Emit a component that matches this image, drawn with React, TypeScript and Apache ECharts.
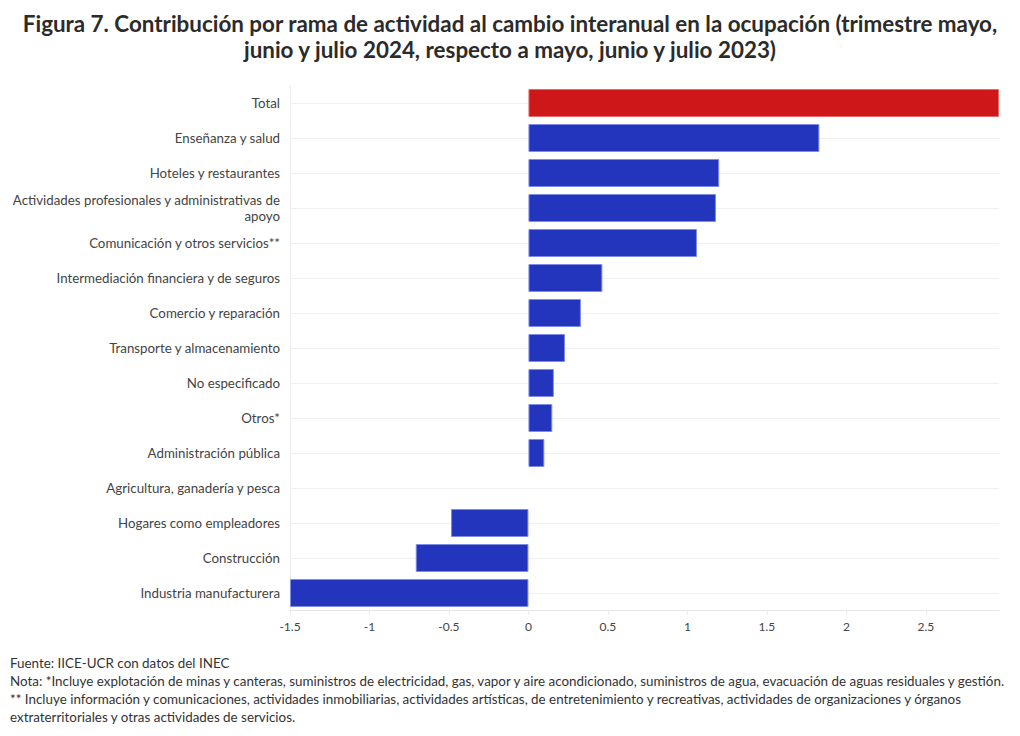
import React, { useEffect, useRef } from "react";
import * as echarts from "echarts";

const categories = [
  "Total",
  "Enseñanza y salud",
  "Hoteles y restaurantes",
  "Actividades profesionales y administrativas de\napoyo",
  "Comunicación y otros servicios**",
  "Intermediación financiera y de seguros",
  "Comercio y reparación",
  "Transporte y almacenamiento",
  "No especificado",
  "Otros*",
  "Administración pública",
  "Agricultura, ganadería y pesca",
  "Hogares como empleadores",
  "Construcción",
  "Industria manufacturera",
];

const values = [2.96, 1.83, 1.2, 1.18, 1.06, 0.465, 0.33, 0.23, 0.16, 0.15, 0.1, 0, -0.487, -0.709, -1.5];

const xTicks = ["-1.5", "-1", "-0.5", "0", "0.5", "1", "1.5", "2", "2.5"];

const titleLines = [
  "Figura 7. Contribución por rama de actividad al cambio interanual en la ocupación (trimestre mayo,",
  "junio y julio 2024, respecto a mayo, junio y julio 2023)",
];

const footerLines = [
  "Fuente: IICE-UCR con datos del INEC",
  "Nota: *Incluye explotación de minas y canteras, suministros de electricidad, gas, vapor y aire acondicionado, suministros de agua, evacuación de aguas residuales y gestión.",
  "** Incluye información y comunicaciones, actividades inmobiliarias, actividades artísticas, de entretenimiento y recreativas, actividades de organizaciones y órganos",
  "extraterritoriales y otras actividades de servicios.",
];

const FONT = "Lato, 'Source Sans Pro', sans-serif";

export default function App() {
  const ref = useRef<HTMLDivElement>(null);
  useEffect(() => {
    if (!ref.current) return;
    const chart = echarts.init(ref.current, undefined, { renderer: "svg" });
    const data = values.map((v, i) => ({
      value: v,
      itemStyle:
        i === 0
          ? { color: "#cd1719", borderColor: "#e56a6a", borderWidth: 1 }
          : { color: "#2335bd", borderColor: "#7d8ce6", borderWidth: v === 0 ? 0 : 1 },
    }));
    chart.setOption({
      animation: false,
      backgroundColor: "#ffffff",
      textStyle: { fontFamily: FONT },
      title: {
        text: titleLines.join("\n"),
        left: "center",
        top: 5,
        textStyle: {
          fontFamily: FONT,
          fontWeight: "bold",
          fontSize: 22.4,
          lineHeight: 26,
          color: "#2b2b2b",
        },
      },
      grid: { left: 290, right: 21, top: 85.5, bottom: 125.5, containLabel: false },
      xAxis: {
        type: "value",
        min: -1.5,
        max: values[0],
        interval: 0.5,
        axisLine: { show: true, lineStyle: { color: "#e6e6e6" } },
        axisTick: { show: true, length: 4, lineStyle: { color: "#ececec" } },
        splitLine: { show: false },
        axisLabel: {
          color: "#444444",
          fontSize: 12,
          margin: 10,
          showMaxLabel: false,
          formatter: (v: number) => {
            const s = String(Math.round(v * 10) / 10);
            return xTicks.includes(s) ? s : "";
          },
        },
      },
      yAxis: {
        type: "category",
        data: categories,
        inverse: true,
        axisLine: { show: true, onZero: false, lineStyle: { color: "#ececec" } },
        axisTick: { show: false, alignWithLabel: true },
        splitLine: { show: true, alignWithLabel: true, lineStyle: { color: "#efefef" } },
        axisLabel: {
          color: "#444444",
          fontSize: 13.3,
          margin: 10,
          lineHeight: 16,
          align: "right",
        },
      },
      series: [
        {
          type: "bar",
          data,
          barCategoryGap: "20%",
        },
      ],
      graphic: footerLines.map((t, i) => ({
        type: "text",
        left: 10,
        top: 656 + i * 18,
        style: { text: t, fontFamily: FONT, fontSize: 13.4, fill: "#333333" },
      })),
    });
    return () => chart.dispose();
  }, []);
  return (
    <div
      ref={ref}
      style={{ position: "absolute", left: 0, top: 0, width: 1020, height: 736 }}
    />
  );
}
